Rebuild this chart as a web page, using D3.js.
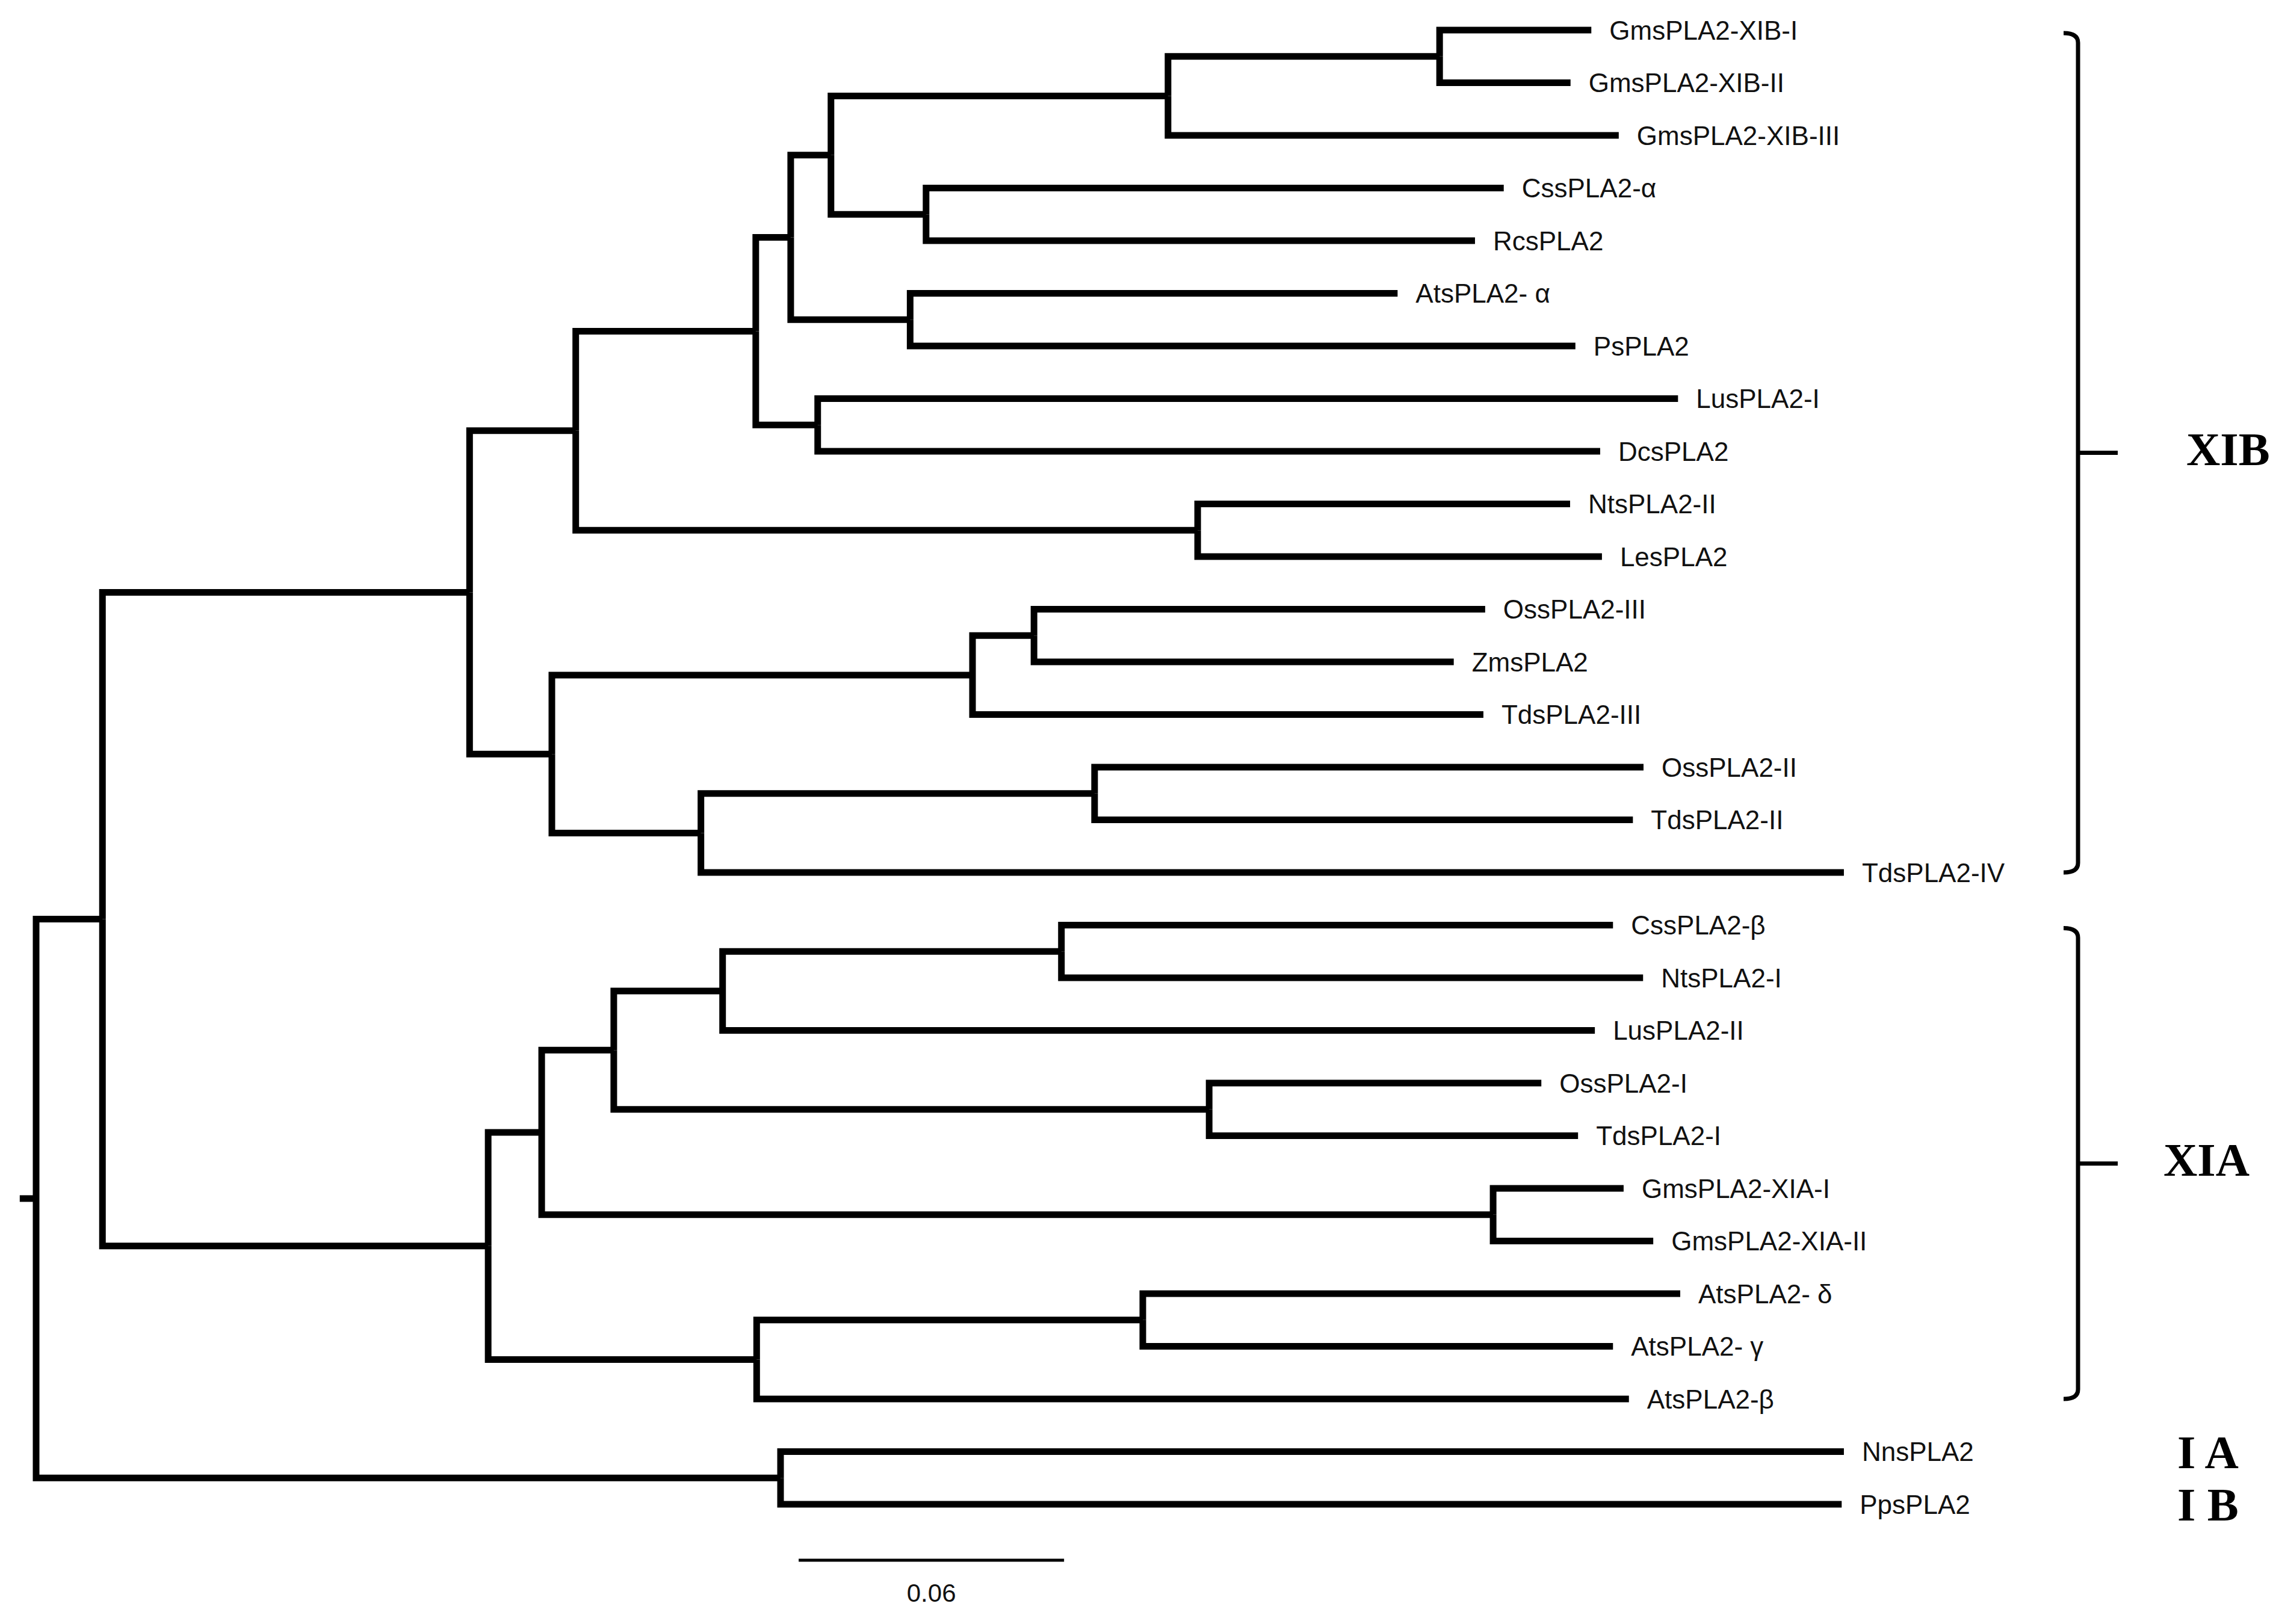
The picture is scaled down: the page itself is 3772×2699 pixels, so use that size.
<!DOCTYPE html>
<html lang="en">
<head>
<meta charset="UTF-8">
<script src="https://cdnjs.cloudflare.com/ajax/libs/d3/7.8.5/d3.min.js"></script>
<title>PLA2 phylogenetic tree</title>
<style>
    body { margin: 0; background: #fff; }
    svg { display: block; background: #fff; }
    .branch { fill: none; stroke: #000; stroke-width: 11; stroke-linejoin: miter; stroke-linecap: butt; }
    .tip { font-family: 'Liberation Sans', Arial, sans-serif; font-size: 44px; fill: #111; }
    .group { font-family: 'Liberation Serif', 'Times New Roman', serif; font-weight: bold; font-size: 78px; fill: #000; }
    .bracket { fill: none; stroke: #000; stroke-width: 7; }
    .scalebar { stroke: #000; stroke-width: 5; }
    .scalelabel { font-family: 'Liberation Sans', Arial, sans-serif; font-size: 42px; fill: #111; }
</style>
</head>
<body>
<svg></svg>
<script>
// leaves, top to bottom
const leafNames = [
    'GmsPLA2-XIB-I', 'GmsPLA2-XIB-II', 'GmsPLA2-XIB-III', 'CssPLA2-α', 'RcsPLA2',
    'AtsPLA2- α', 'PsPLA2', 'LusPLA2-I', 'DcsPLA2', 'NtsPLA2-II', 'LesPLA2',
    'OssPLA2-III', 'ZmsPLA2', 'TdsPLA2-III', 'OssPLA2-II', 'TdsPLA2-II', 'TdsPLA2-IV',
    'CssPLA2-β', 'NtsPLA2-I', 'LusPLA2-II', 'OssPLA2-I', 'TdsPLA2-I',
    'GmsPLA2-XIA-I', 'GmsPLA2-XIA-II', 'AtsPLA2- δ', 'AtsPLA2- γ', 'AtsPLA2-β',
    'NnsPLA2', 'PpsPLA2'
]

// tree as a parent table; nodeDist = distance from the root (substitutions/site)
const nodeIds = [
    'root', 'n1', 'n3', 'n5', 'n7', 'n9', 'n11', 'n13', 'n15',
    'GmsPLA2-XIB-I', 'GmsPLA2-XIB-II', 'GmsPLA2-XIB-III',
    'n14', 'CssPLA2-α', 'RcsPLA2',
    'n12', 'AtsPLA2- α', 'PsPLA2',
    'n10', 'LusPLA2-I', 'DcsPLA2',
    'n8', 'NtsPLA2-II', 'LesPLA2',
    'n6', 'n16', 'n17', 'OssPLA2-III', 'ZmsPLA2', 'TdsPLA2-III',
    'n18', 'n19', 'OssPLA2-II', 'TdsPLA2-II', 'TdsPLA2-IV',
    'n4', 'n20', 'n22', 'n24', 'n26', 'CssPLA2-β', 'NtsPLA2-I', 'LusPLA2-II',
    'n25', 'OssPLA2-I', 'TdsPLA2-I',
    'n23', 'GmsPLA2-XIA-I', 'GmsPLA2-XIA-II',
    'n21', 'n27', 'AtsPLA2- δ', 'AtsPLA2- γ', 'AtsPLA2-β',
    'n2', 'NnsPLA2', 'PpsPLA2'
]
const parentIds = [
    '', 'root', 'n1', 'n3', 'n5', 'n7', 'n9', 'n11', 'n13',
    'n15', 'n15', 'n13',
    'n11', 'n14', 'n14',
    'n9', 'n12', 'n12',
    'n7', 'n10', 'n10',
    'n5', 'n8', 'n8',
    'n3', 'n6', 'n16', 'n17', 'n17', 'n16',
    'n6', 'n18', 'n19', 'n19', 'n18',
    'n1', 'n4', 'n20', 'n22', 'n24', 'n26', 'n26', 'n24',
    'n22', 'n25', 'n25',
    'n20', 'n23', 'n23',
    'n4', 'n21', 'n27', 'n27', 'n21',
    'root', 'n2', 'n2'
]
const nodeDist = [
    0, 0.0150, 0.0980, 0.1220, 0.1627, 0.1706, 0.1797, 0.2559, 0.3173,
    0.3516, 0.3469, 0.3578,
    0.2012, 0.3318, 0.3253,
    0.1976, 0.3078, 0.3480,
    0.1767, 0.3712, 0.3536,
    0.2626, 0.3468, 0.3540,
    0.1166, 0.2117, 0.2256, 0.3276, 0.3205, 0.3272,
    0.1503, 0.2393, 0.3634, 0.3610, 0.4087,
    0.1022, 0.1143, 0.1306, 0.1552, 0.2318, 0.3565, 0.3633, 0.3524,
    0.2652, 0.3403, 0.3486,
    0.3294, 0.3589, 0.3656,
    0.1629, 0.2502, 0.3717, 0.3565, 0.3601,
    0.1683, 0.4087, 0.4082
]

// clade brackets and single-leaf group labels
const groupNames = ['XIB', 'XIA']
const groupFirst = ['GmsPLA2-XIB-I', 'CssPLA2-β']
const groupLast = ['TdsPLA2-IV', 'AtsPLA2-β']
const singleNames = ['I A', 'I B']
const singleLeaf = ['NnsPLA2', 'PpsPLA2']

const scaleBarValue = 0.06
const scaleBarStart = 0.1724
const rootStub = 0.0037

const W = 3772, H = 2699

const svg = d3.select('svg')
    .attr('width', W)
    .attr('height', H)

const x = d3.scaleLinear()
    .domain([0, 0.06])
    .range([60, 501])

const y = d3.scaleLinear()
    .domain([0, leafNames.length - 1])
    .range([50, 2500])

const rows = nodeIds.map((id, i) => ({ id: id, parent: parentIds[i] || null, dist: nodeDist[i] }))
const root = d3.stratify()
    .id(d => d.id)
    .parentId(d => d.parent)(rows)

// leaves get their row, inner nodes sit between first and last child
root.eachAfter(n => {
    if (!n.children) n.py = y(leafNames.indexOf(n.id))
    else n.py = (n.children[0].py + n.children[n.children.length - 1].py) / 2
})

// root stub
svg.append('path')
    .attr('class', 'branch')
    .attr('d', 'M' + x(-rootStub) + ',' + root.py + 'H' + x(0))

// branches as elbows
svg.selectAll('path.link')
    .data(root.links())
    .enter()
    .append('path')
    .attr('class', 'branch link')
    .attr('d', l => 'M' + x(l.source.data.dist) + ',' + l.source.py +
        'V' + l.target.py + 'H' + x(l.target.data.dist))

// tip labels
svg.selectAll('text.tip')
    .data(root.leaves())
    .enter()
    .append('text')
    .attr('class', 'tip')
    .attr('x', d => x(d.data.dist) + 30)
    .attr('y', d => d.py)
    .attr('dy', '0.36em')
    .text(d => d.id)

// brackets
const bx = 3453, hook = 24
const labelLeft = { 'XIB': 3633, 'XIA': 3595, 'I A': 3618, 'I B': 3618 }

groupNames.forEach((g, i) => {
    const top = y(leafNames.indexOf(groupFirst[i])) + 5
    const bot = y(leafNames.indexOf(groupLast[i]))
    const mid = (top + bot) / 2
    svg.append('path')
        .attr('class', 'bracket')
        .attr('d', 'M' + (bx - hook) + ',' + top + 'Q' + bx + ',' + top + ' ' + bx + ',' + (top + 16) +
            'V' + (bot - 16) + 'Q' + bx + ',' + bot + ' ' + (bx - hook) + ',' + bot)
    svg.append('path')
        .attr('class', 'bracket')
        .attr('d', 'M' + bx + ',' + mid + 'H' + (bx + 66))
    svg.append('text')
        .attr('class', 'group')
        .attr('x', labelLeft[g])
        .attr('y', mid + 20)
        .text(g)
})

singleNames.forEach((g, i) => {
    svg.append('text')
        .attr('class', 'group')
        .attr('x', labelLeft[g])
        .attr('y', y(leafNames.indexOf(singleLeaf[i])) + 27)
        .text(g)
})

// scale bar
svg.append('line')
    .attr('class', 'scalebar')
    .attr('x1', x(scaleBarStart))
    .attr('x2', x(scaleBarStart + scaleBarValue))
    .attr('y1', 2593)
    .attr('y2', 2593)

svg.append('text')
    .attr('class', 'scalelabel')
    .attr('x', (x(scaleBarStart) + x(scaleBarStart + scaleBarValue)) / 2)
    .attr('y', 2662)
    .attr('text-anchor', 'middle')
    .text(scaleBarValue.toFixed(2))
</script>
</body>
</html>
